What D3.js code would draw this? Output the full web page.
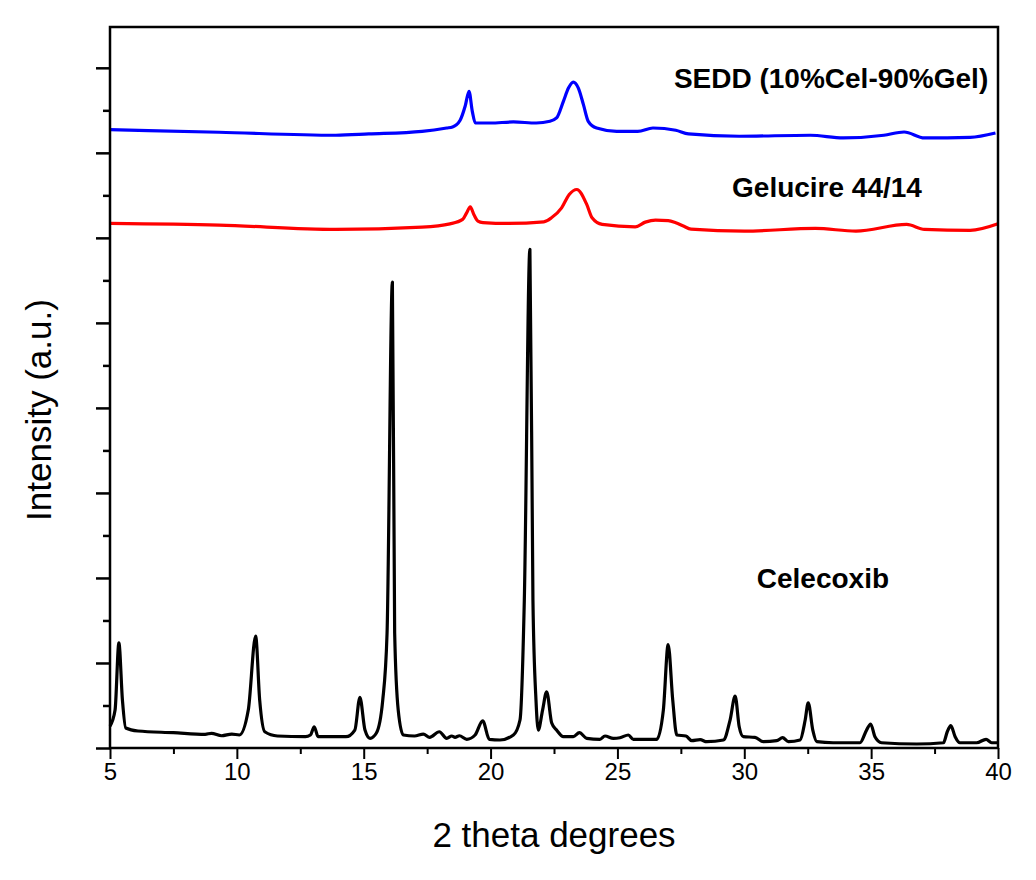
<!DOCTYPE html>
<html>
<head>
<meta charset="utf-8">
<script src="https://cdn.jsdelivr.net/npm/d3@7"></script>
<style>
  html, body { margin: 0; padding: 0; background: #ffffff; }
  svg { display: block; }
  text { font-family: "Liberation Sans", Arial, sans-serif; fill: #000; }
</style>
</head>
<body>
<svg id="chart" width="1036" height="880"></svg>
<script>
// X-ray powder diffraction patterns, 2θ (degrees) vs. intensity (a.u., offset stacks)

const xTicks = [5, 10, 15, 20, 25, 30, 35, 40];

const celecoxib = [
  [5.00, 258], [5.20, 446], [5.35, 1236], [5.49, 563], [5.62, 235], [6.10, 200],
  [7.50, 180], [8.75, 161], [9.00, 173], [9.40, 144], [9.80, 164], [10.10, 153],
  [10.45, 446], [10.74, 1315], [10.90, 563], [11.10, 191], [11.60, 141], [12.70, 133],
  [12.90, 153], [13.05, 250], [13.20, 133], [14.30, 133], [14.65, 211], [14.85, 595],
  [15.05, 211], [15.25, 114], [15.50, 176], [15.75, 563], [15.92, 1350], [16.13, 5481],
  [16.22, 1350], [16.36, 446], [16.56, 153], [17.00, 141], [17.35, 164], [17.60, 126],
  [17.98, 191], [18.27, 114], [18.47, 141], [18.60, 126], [18.77, 144], [19.06, 102],
  [19.39, 153], [19.69, 320], [19.95, 102], [20.37, 94], [20.90, 153], [21.16, 329],
  [21.33, 1737], [21.55, 5865], [21.67, 1737], [21.79, 563], [21.88, 211], [22.05, 446],
  [22.21, 661], [22.41, 293], [22.60, 211], [22.87, 133], [23.26, 133], [23.50, 180],
  [23.79, 114], [24.31, 102], [24.51, 141], [24.84, 114], [25.10, 121], [25.43, 153],
  [25.63, 102], [26.55, 102], [26.81, 446], [27.00, 1217], [27.18, 563], [27.34, 153],
  [27.70, 141], [27.93, 86], [28.26, 98], [28.52, 74], [29.18, 94], [29.44, 329],
  [29.64, 610], [29.80, 250], [29.96, 133], [30.42, 126], [30.75, 74], [31.28, 86],
  [31.51, 121], [31.74, 74], [32.20, 94], [32.40, 329], [32.52, 532], [32.70, 211],
  [32.86, 74], [33.50, 62], [34.56, 62], [34.82, 211], [34.98, 282], [35.15, 133],
  [35.41, 62], [36.80, 47], [37.85, 62], [38.00, 191], [38.14, 262], [38.31, 133],
  [38.50, 62], [39.16, 62], [39.53, 102], [39.75, 62], [40.00, 62]
];

const gelucire = [
  [5.00, 6170], [9.30, 6150], [13.90, 6100], [17.30, 6127], [18.40, 6165], [18.90, 6217],
  [19.05, 6291], [19.20, 6365], [19.35, 6268], [19.50, 6197], [19.70, 6180], [20.70, 6170],
  [22.10, 6189], [22.40, 6236], [22.80, 6353], [23.10, 6510], [23.40, 6569], [23.79, 6393],
  [24.00, 6236], [24.40, 6158], [25.70, 6130], [26.10, 6185], [26.50, 6209], [27.00, 6203],
  [27.30, 6177], [27.60, 6139], [27.90, 6103], [30.00, 6080], [32.80, 6111], [34.40, 6080],
  [36.40, 6158], [37.10, 6100], [38.90, 6088], [40.00, 6165]
];

const sedd = [
  [5.00, 7273], [9.30, 7242], [13.90, 7207], [15.20, 7222], [17.30, 7253], [18.27, 7292],
  [18.50, 7304], [18.80, 7383], [19.00, 7550], [19.15, 7723], [19.28, 7488], [19.40, 7351],
  [20.00, 7351], [20.90, 7363], [21.80, 7351], [22.34, 7371], [22.60, 7410], [22.87, 7606],
  [23.07, 7762], [23.26, 7832], [23.46, 7762], [23.66, 7567], [23.85, 7371], [24.18, 7292],
  [24.97, 7253], [25.80, 7253], [26.40, 7292], [27.30, 7265], [27.80, 7222], [29.80, 7195],
  [32.60, 7207], [33.90, 7175], [35.50, 7207], [36.30, 7245], [37.10, 7175], [38.90, 7183],
  [39.90, 7234]
];

const seriesColors = ["#000000", "#ff0000", "#0000ff"];
const seriesNames = ["Celecoxib", "Gelucire 44/14", "SEDD (10%Cel-90%Gel)"];
const labelAnchors = [[33.1, 1882], [33.26, 6480], [33.42, 7760]];

const svg = d3.select("#chart");
const plotLeft = 110, plotRight = 998, plotTop = 27, plotBottom = 748;

const x = d3.scaleLinear().domain([5, 40]).range([plotLeft, plotRight]);
const y = d3.scaleLinear().domain([0, 8480]).range([plotBottom, plotTop]);

// curves
const line = d3.line()
  .x(d => x(d[0]))
  .y(d => y(d[1]))
  .curve(d3.curveMonotoneX);

[celecoxib, gelucire, sedd].forEach((s, i) => {
  svg.append("path")
    .datum(s)
    .attr("d", line)
    .attr("fill", "none")
    .attr("stroke", seriesColors[i])
    .attr("stroke-width", 3.2)
    .attr("stroke-linejoin", "round");
});

// bottom axis: major ticks every 5, minor every 2.5
const xMinor = d3.range(7.5, 40, 5);
svg.append("g")
  .attr("transform", `translate(0,${plotBottom})`)
  .call(d3.axisBottom(x).tickValues(xMinor).tickSize(6).tickFormat(""))
  .call(g => g.select(".domain").remove())
  .call(g => g.selectAll("line").attr("stroke-width", 2));

const xAxis = svg.append("g")
  .attr("transform", `translate(0,${plotBottom})`)
  .call(d3.axisBottom(x).tickValues(xTicks).tickSize(11).tickPadding(4).tickFormat(d3.format("d")));
xAxis.select(".domain").remove();
xAxis.selectAll("line").attr("stroke-width", 2);
xAxis.selectAll("text")
  .style("font-family", "Liberation Sans, Arial, sans-serif")
  .style("font-size", "24px")
  .attr("fill", "#000");

// left axis: unlabeled ticks
const yMajor = d3.range(0, 8481, 1000);
const yMinor = d3.range(500, 8481, 1000);
svg.append("g")
  .attr("transform", `translate(${plotLeft},0)`)
  .call(d3.axisLeft(y).tickValues(yMajor).tickSize(14).tickFormat(""))
  .call(g => g.select(".domain").remove())
  .call(g => g.selectAll("line").attr("stroke-width", 2.5));
svg.append("g")
  .attr("transform", `translate(${plotLeft},0)`)
  .call(d3.axisLeft(y).tickValues(yMinor).tickSize(7).tickFormat(""))
  .call(g => g.select(".domain").remove())
  .call(g => g.selectAll("line").attr("stroke-width", 2.5));

// frame
svg.append("rect")
  .attr("x", plotLeft).attr("y", plotTop)
  .attr("width", plotRight - plotLeft).attr("height", plotBottom - plotTop)
  .attr("fill", "none")
  .attr("stroke", "#000")
  .attr("stroke-width", 2.5);

// series labels
seriesNames.forEach((name, i) => {
  svg.append("text")
    .attr("x", x(labelAnchors[i][0]))
    .attr("y", y(labelAnchors[i][1]))
    .attr("text-anchor", "middle")
    .style("font-size", "28px")
    .style("font-weight", "bold")
    .text(name);
});

// axis titles
svg.append("text")
  .attr("x", (plotLeft + plotRight) / 2)
  .attr("y", 847)
  .attr("text-anchor", "middle")
  .style("font-size", "35px")
  .text("2 theta degrees");

svg.append("text")
  .attr("transform", `translate(51,410) rotate(-90)`)
  .attr("text-anchor", "middle")
  .style("font-size", "35px")
  .text("Intensity (a.u.)");
</script>
</body>
</html>
